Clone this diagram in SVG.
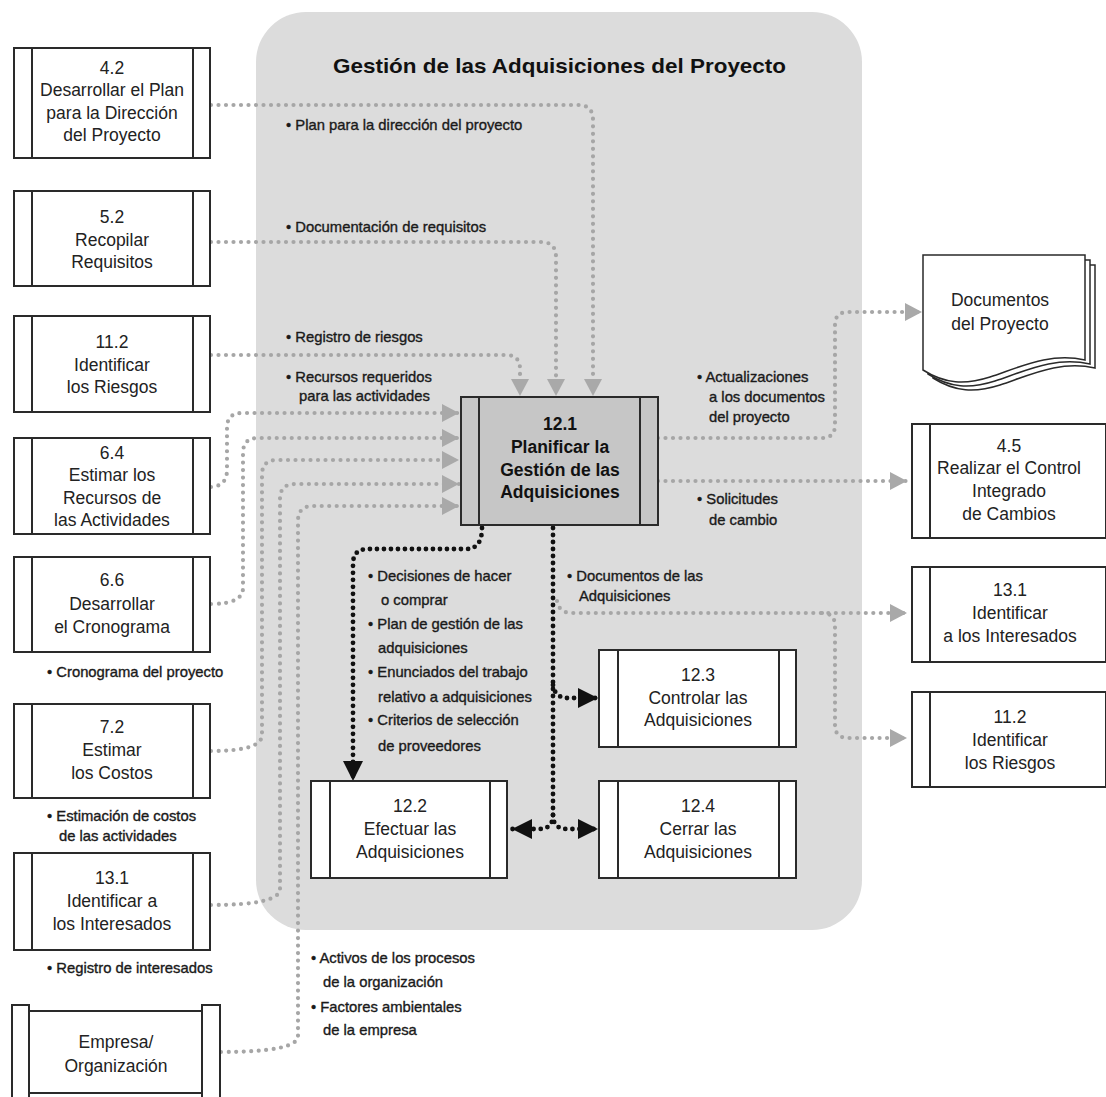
<svg xmlns="http://www.w3.org/2000/svg" width="1106" height="1097" viewBox="0 0 1106 1097">
<style>
.bx{fill:#fff;stroke:#2a2a2a;stroke-width:2}
.ln{fill:none;stroke:#2a2a2a;stroke-width:2}
.gl{fill:none;stroke:#a6a6a6;stroke-width:4.2;stroke-dasharray:0 7.5;stroke-linecap:round}
.bl{fill:none;stroke:#111;stroke-width:4.8;stroke-dasharray:0 7;stroke-linecap:round}
.nt{font-family:"Liberation Sans",Arial,sans-serif;font-size:17.5px;fill:#222;text-anchor:middle}
.bt{font-family:"Liberation Sans",Arial,sans-serif;font-size:17.5px;font-weight:bold;fill:#111;text-anchor:middle}
.lb{font-family:"Liberation Sans",Arial,sans-serif;font-size:14.8px;fill:#1a1a1a;stroke:#1a1a1a;stroke-width:0.35}
</style>
<defs>
<marker id="ga" markerUnits="userSpaceOnUse" markerWidth="17" markerHeight="18" refX="17" refY="9" orient="auto"><path d="M0,0 L17,9 L0,18 z" fill="#a9a9a9"/></marker>
<marker id="ba" markerUnits="userSpaceOnUse" markerWidth="20" markerHeight="20" refX="20" refY="10" orient="auto"><path d="M0,0 L20,10 L0,20 z" fill="#111"/></marker>
</defs>
<rect width="1106" height="1097" fill="#fff"/>
<rect x="256" y="12" width="606" height="918" rx="50" fill="#dcdcdc"/>
<text x="333" y="73" font-family="'Liberation Sans',Arial,sans-serif" font-size="21" font-weight="bold" fill="#111" textLength="453" lengthAdjust="spacingAndGlyphs">Gestión de las Adquisiciones del Proyecto</text>

<g id="connectors">
<path class="gl" d="M211,105 H578 Q593,105 593,120 V396" marker-end="url(#ga)"/>
<path class="gl" d="M211,242 H541 Q556,242 556,257 V396" marker-end="url(#ga)"/>
<path class="gl" d="M211,355 H506 Q520,355 520,369 V396" marker-end="url(#ga)"/>
<path class="gl" d="M211,487 Q227,486 227,470 V428 Q227,413 242,413 H459" marker-end="url(#ga)"/>
<path class="gl" d="M211,604 Q243,604 243,588 V453 Q243,438 258,438 H459" marker-end="url(#ga)"/>
<path class="gl" d="M211,751 Q262,751 262,735 V475 Q262,460 277,460 H459" marker-end="url(#ga)"/>
<path class="gl" d="M211,905 Q280,905 280,889 V499 Q280,484 295,484 H459" marker-end="url(#ga)"/>
<path class="gl" d="M221,1052 Q298,1052 298,1036 V521 Q298,506 313,506 H459" marker-end="url(#ga)"/>
<path class="gl" d="M658,438 H822 Q835,438 835,425 V325 Q835,312 848,312 H922" marker-end="url(#ga)"/>
<path class="gl" d="M658,481 H907" marker-end="url(#ga)"/>
<path class="gl" d="M557,601 Q559,613 572,613 H907" marker-end="url(#ga)"/>
<path class="gl" d="M822,613 Q835,613 835,626 V725 Q835,738 848,738 H907" marker-end="url(#ga)"/>
<path class="bl" d="M482,528 Q482,549 466,549 H368 Q353,549 353,564 V781" marker-end="url(#ba)"/>
<path class="bl" d="M553,528 V815 Q553,829 539,829 H512" marker-end="url(#ba)"/>
<path class="bl" d="M553,815 Q553,829 567,829 H598" marker-end="url(#ba)"/>
<path class="bl" d="M553,685 Q555,698 568,698 H598" marker-end="url(#ba)"/>
</g>

<g id="n42"><rect class="bx" x="14" y="48" width="196" height="110"/><path class="ln" d="M32,48 V158 M193,48 V158"/>
<text class="nt" x="112" y="74">4.2</text><text class="nt" x="112" y="96">Desarrollar el Plan</text><text class="nt" x="112" y="119">para la Dirección</text><text class="nt" x="112" y="141">del Proyecto</text></g>
<g id="n52"><rect class="bx" x="14" y="191" width="196" height="95"/><path class="ln" d="M32,191 V286 M193,191 V286"/>
<text class="nt" x="112" y="223">5.2</text><text class="nt" x="112" y="246">Recopilar</text><text class="nt" x="112" y="268">Requisitos</text></g>
<g id="n112a"><rect class="bx" x="14" y="316" width="196" height="96"/><path class="ln" d="M32,316 V412 M193,316 V412"/>
<text class="nt" x="112" y="348">11.2</text><text class="nt" x="112" y="371">Identificar</text><text class="nt" x="112" y="393">los Riesgos</text></g>
<g id="n64"><rect class="bx" x="14" y="438" width="196" height="96"/><path class="ln" d="M32,438 V534 M193,438 V534"/>
<text class="nt" x="112" y="459">6.4</text><text class="nt" x="112" y="481">Estimar los</text><text class="nt" x="112" y="504">Recursos de</text><text class="nt" x="112" y="526">las Actividades</text></g>
<g id="n66"><rect class="bx" x="14" y="557" width="196" height="95"/><path class="ln" d="M32,557 V652 M193,557 V652"/>
<text class="nt" x="112" y="586">6.6</text><text class="nt" x="112" y="610">Desarrollar</text><text class="nt" x="112" y="633">el Cronograma</text></g>
<g id="n72"><rect class="bx" x="14" y="704" width="196" height="94"/><path class="ln" d="M32,704 V798 M193,704 V798"/>
<text class="nt" x="112" y="733">7.2</text><text class="nt" x="112" y="756">Estimar</text><text class="nt" x="112" y="779">los Costos</text></g>
<g id="n131a"><rect class="bx" x="14" y="853" width="196" height="97"/><path class="ln" d="M32,853 V950 M193,853 V950"/>
<text class="nt" x="112" y="884">13.1</text><text class="nt" x="112" y="907">Identificar a</text><text class="nt" x="112" y="930">los Interesados</text></g>
<g id="emp"><rect class="bx" x="12" y="1005" width="17" height="100"/><rect class="bx" x="202" y="1005" width="18" height="100"/><rect class="bx" x="29" y="1011" width="173" height="82"/>
<text class="nt" x="116" y="1048">Empresa/</text><text class="nt" x="116" y="1072">Organización</text></g>

<g id="n121"><rect x="461" y="397" width="197" height="128" fill="#c6c6c6" stroke="#2a2a2a" stroke-width="2"/><path class="ln" d="M479,397 V525 M640,397 V525"/>
<text class="bt" x="560" y="430">12.1</text><text class="bt" x="560" y="453">Planificar la</text><text class="bt" x="560" y="476">Gestión de las</text><text class="bt" x="560" y="498">Adquisiciones</text></g>
<g id="n122"><rect class="bx" x="311" y="781" width="196" height="97"/><path class="ln" d="M330,781 V878 M490,781 V878"/>
<text class="nt" x="410" y="812">12.2</text><text class="nt" x="410" y="835">Efectuar las</text><text class="nt" x="410" y="858">Adquisiciones</text></g>
<g id="n123"><rect class="bx" x="599" y="650" width="197" height="97"/><path class="ln" d="M618,650 V747 M779,650 V747"/>
<text class="nt" x="698" y="681">12.3</text><text class="nt" x="698" y="704">Controlar las</text><text class="nt" x="698" y="726">Adquisiciones</text></g>
<g id="n124"><rect class="bx" x="599" y="781" width="197" height="97"/><path class="ln" d="M618,781 V878 M779,781 V878"/>
<text class="nt" x="698" y="812">12.4</text><text class="nt" x="698" y="835">Cerrar las</text><text class="nt" x="698" y="858">Adquisiciones</text></g>

<g id="docs">
<path d="M933,265 H1095 V368 C1060,360 1030,375 1000,385 C975,393 955,392 933,378 Z" fill="#fff" stroke="#2a2a2a" stroke-width="1.5"/>
<path d="M928,260 H1090 V364 C1055,356 1025,371 995,381 C970,389 950,388 928,374 Z" fill="#fff" stroke="#2a2a2a" stroke-width="1.5"/>
<path d="M923,255 H1085 V360 C1050,352 1020,367 990,377 C965,385 945,384 923,370 Z" fill="#fff" stroke="#2a2a2a" stroke-width="1.5"/>
<text class="nt" x="1000" y="306">Documentos</text><text class="nt" x="1000" y="330">del Proyecto</text></g>
<g id="n45"><rect class="bx" x="912" y="424" width="194" height="114"/><path class="ln" d="M930,424 V538"/>
<text class="nt" x="1009" y="452">4.5</text><text class="nt" x="1009" y="474">Realizar el Control</text><text class="nt" x="1009" y="497">Integrado</text><text class="nt" x="1009" y="520">de Cambios</text></g>
<g id="n131b"><rect class="bx" x="912" y="567" width="194" height="95"/><path class="ln" d="M930,567 V662"/>
<text class="nt" x="1010" y="596">13.1</text><text class="nt" x="1010" y="619">Identificar</text><text class="nt" x="1010" y="642">a los Interesados</text></g>
<g id="n112b"><rect class="bx" x="912" y="692" width="194" height="95"/><path class="ln" d="M930,692 V787"/>
<text class="nt" x="1010" y="723">11.2</text><text class="nt" x="1010" y="746">Identificar</text><text class="nt" x="1010" y="769">los Riesgos</text></g>

<g id="labels">
<text class="lb" x="286" y="130">• Plan para la dirección del proyecto</text>
<text class="lb" x="286" y="232">• Documentación de requisitos</text>
<text class="lb" x="286" y="342">• Registro de riesgos</text>
<text class="lb" x="286" y="382">• Recursos requeridos</text>
<text class="lb" x="299" y="401">para las actividades</text>
<text class="lb" x="697" y="382">• Actualizaciones</text>
<text class="lb" x="709" y="402">a los documentos</text>
<text class="lb" x="709" y="422">del proyecto</text>
<text class="lb" x="697" y="504">• Solicitudes</text>
<text class="lb" x="709" y="525">de cambio</text>
<text class="lb" x="567" y="581">• Documentos de las</text>
<text class="lb" x="579" y="601">Adquisiciones</text>
<text class="lb" x="368" y="581">• Decisiones de hacer</text>
<text class="lb" x="381" y="605">o comprar</text>
<text class="lb" x="368" y="629">• Plan de gestión de las</text>
<text class="lb" x="378" y="653">adquisiciones</text>
<text class="lb" x="368" y="677">• Enunciados del trabajo</text>
<text class="lb" x="378" y="702">relativo a adquisiciones</text>
<text class="lb" x="368" y="725">• Criterios de selección</text>
<text class="lb" x="378" y="751">de proveedores</text>
<text class="lb" x="47" y="677">• Cronograma del proyecto</text>
<text class="lb" x="47" y="821">• Estimación de costos</text>
<text class="lb" x="59" y="841">de las actividades</text>
<text class="lb" x="47" y="973">• Registro de interesados</text>
<text class="lb" x="311" y="963">• Activos de los procesos</text>
<text class="lb" x="323" y="987">de la organización</text>
<text class="lb" x="311" y="1012">• Factores ambientales</text>
<text class="lb" x="323" y="1035">de la empresa</text>
</g>
</svg>
